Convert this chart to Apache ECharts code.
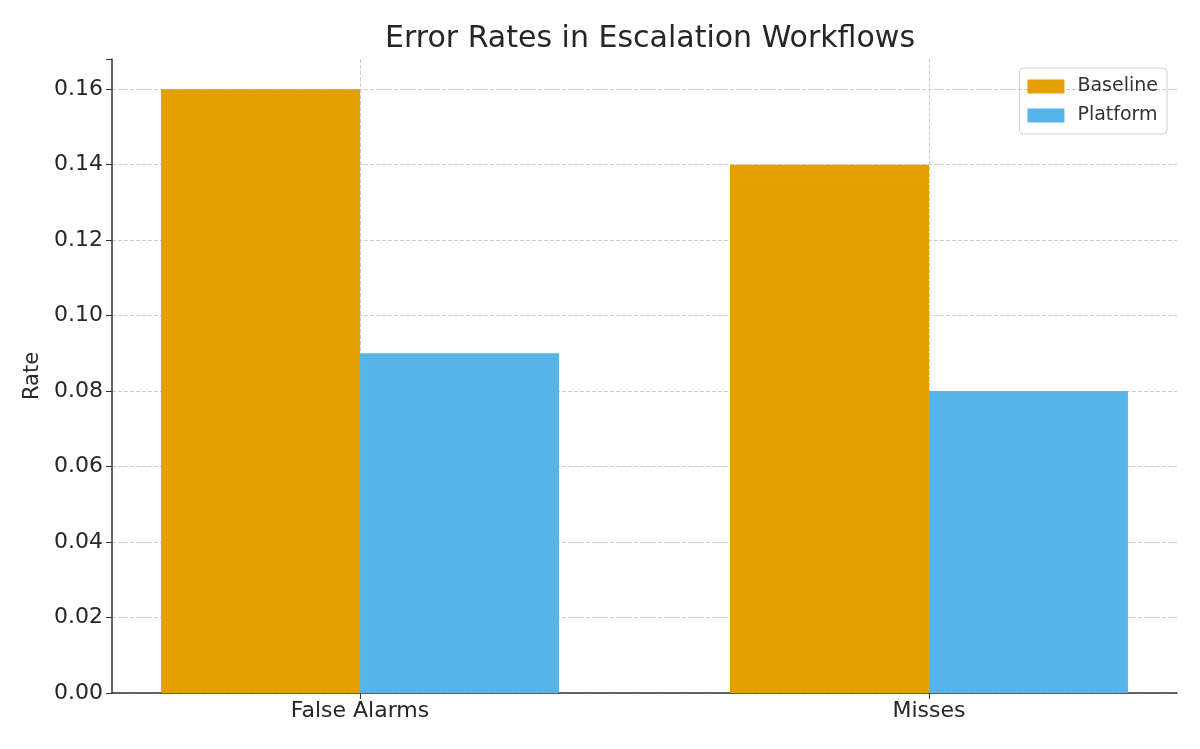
<!DOCTYPE html>
<html>
<head>
    <meta charset="utf-8">
    <title>Error Rates in Escalation Workflows</title>
    <script src="https://cdn.jsdelivr.net/npm/echarts@6/dist/echarts.min.js"></script>
    <style>
        html, body { margin: 0; padding: 0; background: #fff; }
        #chart { width: 1200px; height: 749px; }
    </style>
</head>
<body>
<div id="chart"></div>
<script>
    // 数据
    var categories = ['False Alarms', 'Misses'];
    var baseline = [0.16, 0.14];
    var platform = [0.09, 0.08];
    var yTicks = [0, 0.02, 0.04, 0.06, 0.08, 0.10, 0.12, 0.14, 0.16];

    var font = 'DejaVu Sans';
    var myChart = echarts.init(document.getElementById('chart'));

    function toPoints(arr) {
        return arr.map(function (v, i) { return [i, v]; });
    }

    myChart.setOption({
        animation: false,
        textStyle: { fontFamily: font },
        title: {
            text: 'Error Rates in Escalation Workflows',
            left: 645,
            top: 19,
            textAlign: 'center',
            textStyle: { fontFamily: font, fontSize: 30, fontWeight: 'normal', color: '#262626' }
        },
        legend: {
            right: 33,
            top: 68,
            orient: 'vertical',
            icon: 'rect',
            itemWidth: 37,
            itemHeight: 14,
            itemGap: 10,
            padding: [9, 9, 9, 8],
            borderColor: '#d0d0d0',
            borderWidth: 1,
            borderRadius: 4,
            textStyle: { fontFamily: font, fontSize: 19, color: '#333', padding: [0, 0, 0, 8] },
            data: ['Baseline', 'Platform']
        },
        grid: { left: 112, right: 23, top: 59, bottom: 56, containLabel: false },
        xAxis: {
            type: 'value',
            min: -0.436,
            max: 1.436,
            axisLine: { show: true, lineStyle: { color: '#333', width: 1.5 } },
            axisTick: { show: true, customValues: [0, 1], length: 6, lineStyle: { color: '#333' } },
            axisLabel: {
                customValues: [0, 1],
                fontFamily: font, fontSize: 22, color: '#262626', margin: 7,
                formatter: function (v) { return categories[Math.round(v)]; }
            },
            splitLine: { show: true, lineStyle: { color: '#cccccc', type: 'dashed' } }
        },
        yAxis: {
            type: 'value',
            name: 'Rate',
            nameLocation: 'middle',
            nameGap: 65,
            nameTextStyle: { fontFamily: font, fontSize: 21, color: '#262626' },
            min: 0,
            max: 0.168,
            interval: 0.02,
            axisLine: { show: true, onZero: false, lineStyle: { color: '#333', width: 1.5 } },
            axisTick: { show: true, length: 6, lineStyle: { color: '#333' } },
            axisLabel: {
                customValues: yTicks,
                fontFamily: font, fontSize: 22, color: '#262626', margin: 9,
                formatter: function (v) { return v.toFixed(2); }
            },
            splitLine: { show: true, showMaxLine: false, lineStyle: { color: '#cccccc', type: 'dashed' } }
        },
        series: [{
            name: 'Baseline',
            type: 'bar',
            data: toPoints(baseline),
            barWidth: 199,
            barGap: '0%',
            itemStyle: { color: '#E69F00' }
        }, {
            name: 'Platform',
            type: 'bar',
            data: toPoints(platform),
            barWidth: 199,
            barGap: '0%',
            itemStyle: { color: '#56B4E9' }
        }]
    });
</script>
</body>
</html>
